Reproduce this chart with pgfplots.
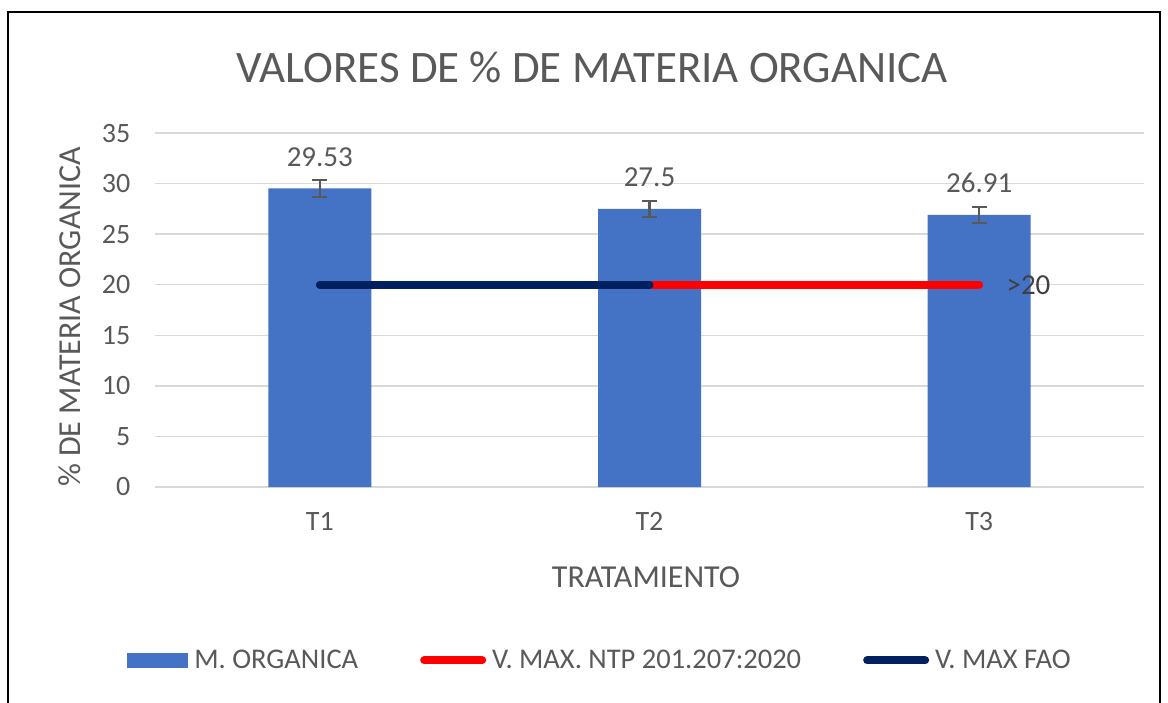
\documentclass[border=0pt]{standalone}
\usepackage{fontspec}
\setmainfont{Carlito}
\usepackage{pgfplots}
\pgfplotsset{compat=1.18}
\definecolor{barblue}{HTML}{4472C4}
\definecolor{navyline}{HTML}{002060}
\definecolor{redline}{HTML}{FF0000}
\definecolor{txtgray}{HTML}{595959}
\definecolor{darkgray}{HTML}{404040}
\definecolor{gridgray}{HTML}{D9D9D9}
\begin{document}
\begin{tikzpicture}
\useasboundingbox (0pt,0pt) rectangle (584pt,-351pt);
\fill[white] (0pt,0pt) rectangle (584pt,-351pt);
\draw[black, line width=1.2pt] (4pt,-360pt) -- (4pt,-6pt) -- (580pt,-6pt) -- (580pt,-360pt);
\begin{axis}[
  at={(77.5pt,-243.5pt)}, anchor=south west,
  scale only axis, width=494.5pt, height=177pt,
  xmin=-0.5, xmax=2.5, ymin=0, ymax=35,
  xtick={0,1,2}, xticklabels={T1,T2,T3},
  ytick={0,5,...,35},
  axis line style={draw=none},
  major tick length=0pt,
  ymajorgrids, grid style={gridgray, line width=0.75pt},
  /pgf/number format/assume math mode=true,
  ticklabel style={font=\fontsize{14}{16}\selectfont, text=txtgray},
  xticklabel style={yshift=-9.3pt},
  yticklabel style={xshift=-8.8pt},
  legend columns=3,
  legend style={at={(0.449,-0.49)}, anchor=center, draw=none, fill=none,
    font=\fontsize{14.25}{16}\selectfont, text=txtgray,
    /tikz/every odd column/.append style={column sep=3pt},
    /tikz/every even column/.append style={column sep=31pt},
    nodes={inner sep=0pt}},
  legend cell align=left,
  clip=false,
]
\addplot[ybar, bar width=51.5pt, bar shift=0pt, fill=barblue, draw=none,
  legend image code/.code={\fill[barblue] (0pt,-3.75pt) rectangle (30.5pt,3.75pt);},
  error bars/.cd, y dir=both, y explicit,
  error bar style={line width=1.2pt, txtgray},
  error mark options={rotate=90, mark size=3.75pt, line width=1.2pt, txtgray},
  ] coordinates {(0,29.53) +- (0,0.85) (1,27.5) +- (0,0.8) (2,26.91) +- (0,0.8)};
\addlegendentry{M. ORGANICA}
\addplot[redline, line width=4pt, line cap=round,
  legend image code/.code={\draw[redline, line width=4pt, line cap=round] (2pt,0pt) -- (31pt,0pt);}]
  coordinates {(1,20) (2,20)};
\addlegendentry{V. MAX. NTP 201.207:2020}
\addplot[navyline, line width=4pt, line cap=round,
  legend image code/.code={\draw[navyline, line width=4pt, line cap=round] (2pt,0pt) -- (31pt,0pt);}]
  coordinates {(0,20) (1,20)};
\addlegendentry{V. MAX FAO}
% data labels
\node[anchor=base, inner sep=0pt, font=\fontsize{14.5}{16}\selectfont, text=txtgray] at (axis cs:0,29.53) [yshift=11pt] {29.53};
\node[anchor=base, inner sep=0pt, font=\fontsize{14.5}{16}\selectfont, text=txtgray] at (axis cs:1,27.5) [yshift=11pt] {27.5};
\node[anchor=base, inner sep=0pt, font=\fontsize{14.5}{16}\selectfont, text=txtgray] at (axis cs:2,26.91) [yshift=11pt] {26.91};
\node[anchor=base west, inner sep=0pt, font=\fontsize{14.5}{16}\selectfont, text=darkgray] at (axis cs:2,20) [xshift=13.5pt, yshift=-5pt] {>20};
\end{axis}
\node[anchor=base, font=\fontsize{22.5}{26}\selectfont, text=txtgray, inner sep=0pt] at (296pt,-41pt) {VALORES DE \% DE MATERIA ORGANICA};
\node[rotate=90, anchor=base, font=\fontsize{16}{19}\selectfont, text=txtgray, inner sep=0pt] at (40pt,-158.5pt) {\% DE MATERIA ORGANICA};
\node[anchor=base, font=\fontsize{16}{19}\selectfont, text=txtgray, inner sep=0pt] at (323pt,-293.5pt) {TRATAMIENTO};
\end{tikzpicture}
\end{document}
